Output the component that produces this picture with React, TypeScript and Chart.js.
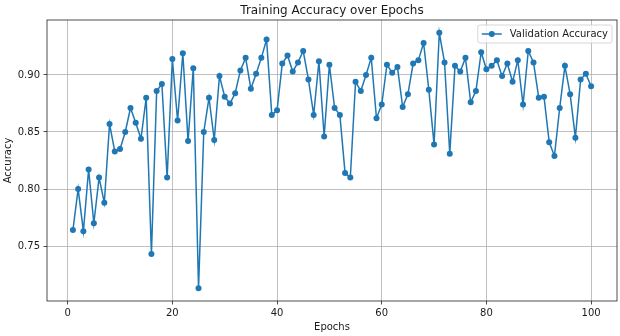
import React, { useEffect, useRef } from "react";
import { Chart, registerables } from "chart.js";

Chart.register(...registerables);

const epochs = [
  1, 2, 3, 4, 5, 6, 7, 8, 9, 10,
  11, 12, 13, 14, 15, 16, 17, 18, 19, 20,
  21, 22, 23, 24, 25, 26, 27, 28, 29, 30,
  31, 32, 33, 34, 35, 36, 37, 38, 39, 40,
  41, 42, 43, 44, 45, 46, 47, 48, 49, 50,
  51, 52, 53, 54, 55, 56, 57, 58, 59, 60,
  61, 62, 63, 64, 65, 66, 67, 68, 69, 70,
  71, 72, 73, 74, 75, 76, 77, 78, 79, 80,
  81, 82, 83, 84, 85, 86, 87, 88, 89, 90,
  91, 92, 93, 94, 95, 96, 97, 98, 99, 100,
];

const valAccuracy = [
  0.764, 0.8, 0.763, 0.817, 0.77, 0.81, 0.788, 0.857, 0.833, 0.835,
  0.85, 0.871, 0.858, 0.844, 0.88, 0.743, 0.886, 0.892, 0.81, 0.914,
  0.86, 0.919, 0.842, 0.906, 0.713, 0.85, 0.88, 0.843, 0.899, 0.881,
  0.875, 0.884, 0.904, 0.915, 0.888, 0.901, 0.915, 0.931, 0.865, 0.869,
  0.91, 0.917, 0.903, 0.911, 0.921, 0.896, 0.865, 0.912, 0.846, 0.909,
  0.871, 0.865, 0.814, 0.81, 0.894, 0.886, 0.9, 0.915, 0.862, 0.874,
  0.909, 0.902, 0.907, 0.872, 0.883, 0.91, 0.913, 0.928, 0.887, 0.839,
  0.937, 0.911, 0.831, 0.908, 0.903, 0.915, 0.876, 0.886, 0.92, 0.905,
  0.908, 0.913, 0.899, 0.91, 0.894, 0.913, 0.874, 0.921, 0.911, 0.88,
  0.881, 0.841, 0.829, 0.871, 0.908, 0.883, 0.845, 0.896, 0.901, 0.89,
];

const xTicks = [0, 20, 40, 60, 80, 100];
const yTicks = [0.75, 0.8, 0.85, 0.9];

const titleText = "Training Accuracy over Epochs";
const xLabel = "Epochs";
const yLabel = "Accuracy";
const seriesLabel = "Validation Accuracy";

const FONT = "'DejaVu Sans', sans-serif";
const BLUE = "#1f77b4";
const TEXT = "#1a1a1a";

export default function App() {
  const ref = useRef<HTMLCanvasElement>(null);

  useEffect(() => {
    const canvas = ref.current;
    if (!canvas) return;

    const xMinD = Math.min(...epochs);
    const xMaxD = Math.max(...epochs);
    const yMinD = Math.min(...valAccuracy);
    const yMaxD = Math.max(...valAccuracy);
    const xPad = (xMaxD - xMinD) * 0.05;
    const yPad = (yMaxD - yMinD) * 0.05;

    const decor = {
      id: "decor",
      afterDraw(chart: any) {
        const { ctx, chartArea: a } = chart;
        ctx.save();
        // frame
        ctx.strokeStyle = "#222";
        ctx.lineWidth = 0.8;
        ctx.strokeRect(a.left, a.top, a.right - a.left, a.bottom - a.top);

        // title
        ctx.fillStyle = TEXT;
        ctx.font = `12px ${FONT}`;
        ctx.textAlign = "center";
        ctx.textBaseline = "alphabetic";
        ctx.fillText(titleText, (a.left + a.right) / 2, a.top - 6);

        // x label
        ctx.font = `10px ${FONT}`;
        ctx.textBaseline = "middle";
        ctx.fillText(xLabel, (a.left + a.right) / 2, 327);

        // y label
        ctx.save();
        ctx.translate(8.5, (a.top + a.bottom) / 2);
        ctx.rotate(-Math.PI / 2);
        ctx.fillText(yLabel, 0, 0);
        ctx.restore();

        // legend
        ctx.font = `10px ${FONT}`;
        const tw = ctx.measureText(seriesLabel).width;
        const boxW = 4 + 20 + 8 + tw + 4;
        const boxH = 18;
        const bx = a.right - 5 - boxW;
        const by = a.top + 5;
        ctx.beginPath();
        if ((ctx as any).roundRect) {
          (ctx as any).roundRect(bx, by, boxW, boxH, 2);
        } else {
          ctx.rect(bx, by, boxW, boxH);
        }
        ctx.fillStyle = "rgba(255,255,255,0.8)";
        ctx.fill();
        ctx.strokeStyle = "#cccccc";
        ctx.lineWidth = 0.8;
        ctx.stroke();

        const cy = by + boxH / 2;
        ctx.strokeStyle = BLUE;
        ctx.lineWidth = 1.5;
        ctx.beginPath();
        ctx.moveTo(bx + 4, cy);
        ctx.lineTo(bx + 24, cy);
        ctx.stroke();
        ctx.fillStyle = BLUE;
        ctx.beginPath();
        ctx.arc(bx + 14, cy, 3, 0, Math.PI * 2);
        ctx.fill();

        ctx.fillStyle = TEXT;
        ctx.textAlign = "left";
        ctx.textBaseline = "middle";
        ctx.fillText(seriesLabel, bx + 32, cy);
        ctx.restore();
      },
    };

    const chart = new Chart(canvas, {
      type: "line",
      data: {
        datasets: [
          {
            label: seriesLabel,
            data: epochs.map((e, i) => ({ x: e, y: valAccuracy[i] })),
            borderColor: BLUE,
            backgroundColor: BLUE,
            borderWidth: 1.5,
            pointRadius: 3,
            pointBorderWidth: 0,
            pointBackgroundColor: BLUE,
            pointHoverRadius: 3,
            tension: 0,
            fill: false,
          },
        ],
      },
      options: {
        animation: false,
        responsive: false,
        events: [],
        layout: { padding: { left: 0, right: 2, top: 20, bottom: 0 } },
        plugins: {
          legend: { display: false },
          title: { display: false },
          tooltip: { enabled: false },
        },
        scales: {
          x: {
            type: "linear",
            min: xMinD - xPad,
            max: xMaxD + xPad,
            afterBuildTicks: (s: any) => {
              s.ticks = xTicks.map((v) => ({ value: v }));
            },
            afterFit: (s: any) => {
              s.height = 35;
            },
            grid: {
              color: "#b0b0b0",
              lineWidth: 0.8,
              tickColor: "#222",
              tickLength: 3.5,
              tickWidth: 0.8,
            },
            border: { display: false },
            ticks: {
              font: { family: FONT, size: 10 },
              color: TEXT,
              padding: 3,
              maxRotation: 0,
              autoSkip: false,
              callback: (v: any) => String(v),
            },
          },
          y: {
            type: "linear",
            min: yMinD - yPad,
            max: yMaxD + yPad,
            afterBuildTicks: (s: any) => {
              s.ticks = yTicks.map((v) => ({ value: v }));
            },
            afterFit: (s: any) => {
              s.width = 47;
            },
            grid: {
              color: "#b0b0b0",
              lineWidth: 0.8,
              tickColor: "#222",
              tickLength: 3.5,
              tickWidth: 0.8,
            },
            border: { display: false },
            ticks: {
              font: { family: FONT, size: 10 },
              color: TEXT,
              padding: 3.5,
              autoSkip: false,
              callback: (v: any) => Number(v).toFixed(2),
            },
          },
        },
      },
      plugins: [decor],
    });

    return () => chart.destroy();
  }, []);

  return (
    <canvas
      ref={ref}
      width={620}
      height={336}
      style={{ position: "absolute", left: 0, top: 0, width: 620, height: 336, display: "block" }}
    />
  );
}
